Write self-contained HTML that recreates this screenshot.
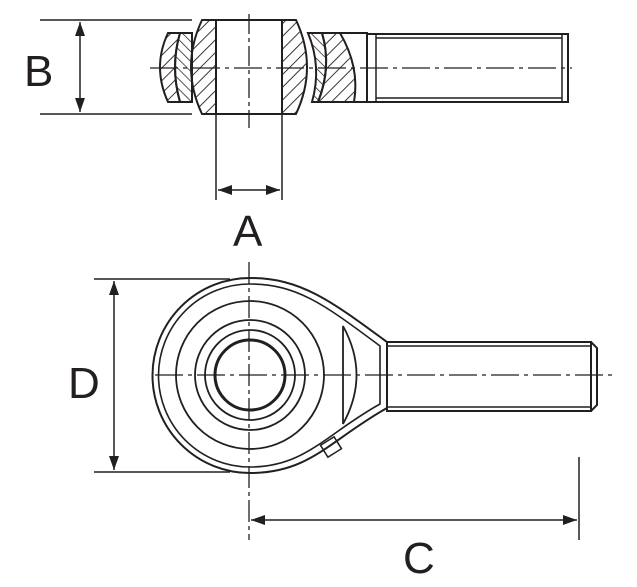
<!DOCTYPE html>
<html><head><style>
html,body{margin:0;padding:0;background:#fff;width:637px;height:587px;overflow:hidden}
text{font-family:"Liberation Sans",sans-serif;fill:#231f20}
</style></head><body>
<svg width="637" height="587" viewBox="0 0 637 587" xmlns="http://www.w3.org/2000/svg">
<defs>
<pattern id="h" width="9" height="9" patternUnits="userSpaceOnUse" patternTransform="rotate(45)">
<line x1="0" y1="0" x2="0" y2="9" stroke="#231f20" stroke-width="1.8"/></pattern>
<pattern id="h2" width="7" height="7" patternUnits="userSpaceOnUse" patternTransform="rotate(-45)">
<line x1="0" y1="0" x2="0" y2="7" stroke="#231f20" stroke-width="1.5"/></pattern>
<marker id="a" markerWidth="14" markerHeight="10" refX="14" refY="5" orient="auto-start-reverse" markerUnits="userSpaceOnUse">
<path d="M0,0 L14,5 L0,10 Z" fill="#231f20"/></marker>
</defs>
<g stroke="#231f20" fill="none" stroke-width="2">
<line x1="40" y1="20" x2="192" y2="20" stroke-width="1.5"/>
<line x1="40" y1="114" x2="192" y2="114" stroke-width="1.5"/>
<line x1="80" y1="22" x2="80" y2="112" stroke-width="1.5" marker-start="url(#a)" marker-end="url(#a)"/>
<path d="M168,33 L180,33 Q170,67 180,102 L168,102 Q152,67 168,33 Z" fill="url(#h)"/>
<path d="M180,33 L192,33 L192,102 L180,102 Q170,67 180,33 Z" fill="url(#h2)"/>
<path d="M202,20 L216,20 L216,114 L202,114 Q180,67 202,20 Z" fill="url(#h)"/>
<path d="M282,20 L296,20 Q318,67 296,114 L282,114 Z" fill="url(#h)"/>
<line x1="216" y1="20" x2="282" y2="20"/>
<line x1="216" y1="114" x2="282" y2="114"/>
<path d="M308,33 L322,33 Q332,67 318,102 L312,102 Q322,67 308,33 Z" fill="url(#h2)"/>
<path d="M322,33 L340,33 Q360,67 354,102 L318,102 Q332,67 322,33 Z" fill="url(#h)"/>
<path d="M340,33 L367,33 L367,102 L354,102"/>
<rect x="367" y="34" width="201" height="68"/>
<line x1="376" y1="34" x2="376" y2="102" stroke-width="1.5"/>
<line x1="376" y1="38" x2="562" y2="38" stroke-width="1.5"/>
<line x1="376" y1="98" x2="562" y2="98" stroke-width="1.5"/>
<line x1="562" y1="34" x2="562" y2="102" stroke-width="1.5"/>
<line x1="150" y1="68" x2="572" y2="68" stroke-width="1.3" stroke-dasharray="28,5,4,5"/>
<line x1="249" y1="14" x2="249" y2="128" stroke-width="1.3" stroke-dasharray="20,4,4,4"/>
<line x1="216" y1="114" x2="216" y2="200" stroke-width="1.5"/>
<line x1="282" y1="114" x2="282" y2="200" stroke-width="1.5"/>
<line x1="218" y1="190" x2="280" y2="190" stroke-width="1.5" marker-start="url(#a)" marker-end="url(#a)"/>

<line x1="94" y1="279" x2="230" y2="279" stroke-width="1.5"/>
<line x1="94" y1="472" x2="230" y2="472" stroke-width="1.5"/>
<line x1="114" y1="281" x2="114" y2="470" stroke-width="1.5" marker-start="url(#a)" marker-end="url(#a)"/>
<path d="M250,278 C300,278 330,300 387,342 L387,408 C330,440 310,473 250,473 A97.5,97.5 0 0 1 250,278 Z"/>
<path d="M250,284 C298,284 326,306 380,346 L380,404 C326,434 305,467 250,467 A91.5,91.5 0 0 1 250,284 Z" stroke-width="1.6"/>
<circle cx="250" cy="375" r="74" stroke-width="1.8"/>
<circle cx="250" cy="375" r="55" stroke-width="1.8"/>
<circle cx="250" cy="375" r="45" stroke-width="1.8"/>
<circle cx="250" cy="375" r="35" stroke-width="3"/>
<path d="M343,326 Q370,375 343,424 Z" stroke-width="1.8"/>
<rect x="387" y="342" width="204" height="69"/>
<path d="M591,342 L597,348 L597,405 L591,411"/>
<line x1="387" y1="346" x2="591" y2="346" stroke-width="1.5"/>
<line x1="387" y1="407" x2="591" y2="407" stroke-width="1.5"/>
<g transform="rotate(-32 331 447)"><rect x="323" y="440" width="16" height="14" stroke-width="1.5"/></g>
<line x1="155" y1="375" x2="612" y2="375" stroke-width="1.3" stroke-dasharray="28,5,4,5"/>
<line x1="249" y1="262" x2="249" y2="540" stroke-width="1.3" stroke-dasharray="22,4,4,4"/>
<line x1="579" y1="457" x2="579" y2="540" stroke-width="1.5"/>
<line x1="251" y1="520" x2="577" y2="520" stroke-width="1.5" marker-start="url(#a)" marker-end="url(#a)"/>
</g>
<text x="24" y="86" font-size="44">B</text>
<text x="233" y="246" font-size="44">A</text>
<text x="68" y="398" font-size="44">D</text>
<text x="403" y="573" font-size="44">C</text>
</svg>
</body></html>
